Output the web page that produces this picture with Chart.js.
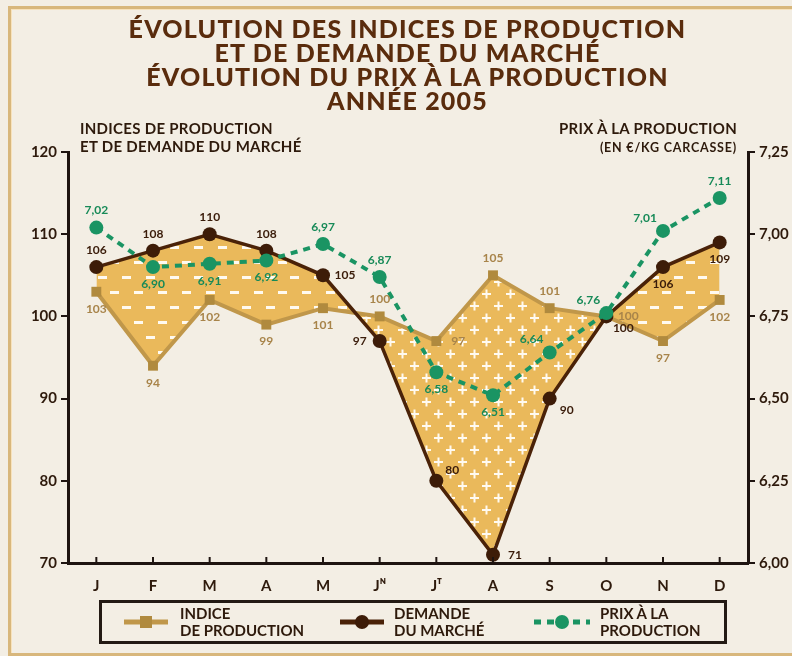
<!DOCTYPE html>
<html>
<head>
<meta charset="utf-8">
<script src="https://cdn.jsdelivr.net/npm/chart.js@4"></script>
<style>
  html, body { margin: 0; padding: 0; width: 792px; height: 656px; overflow: hidden; background: #f3eee4; }
  body { position: relative; font-family: "Lato", "DejaVu Sans", sans-serif; color: #3a1f0c; }
  #frame { position: absolute; left: 8px; top: 6px; width: 800px; height: 644px; border: 3px solid #d8b77c; box-shadow: inset 1px 1px 0 #f7e2bc; }
  #chart { position: absolute; left: 0; top: 0; }
  .title { position: absolute; left: 0; width: 815px; top: 16px; text-align: center; font-weight: 900; font-size: 25px; line-height: 24px; color: #5a2c0d; letter-spacing: 1.2px; }
  .axt { position: absolute; font-weight: 700; font-size: 15px; line-height: 18px; color: #2e1a0c; letter-spacing: 0.3px; }
  #legend { position: absolute; left: 99px; top: 600px; width: 622px; height: 38px; border: 3px solid #231a14; }
  .lg { position: absolute; top: 0; font-weight: 700; font-size: 15px; line-height: 17px; color: #2e1a0c; padding-top: 2px; }
  .lg svg { position: absolute; }
</style>
</head>
<body>
<div id="frame"></div>
<canvas id="chart" width="792" height="656"></canvas>
<div class="title">ÉVOLUTION DES INDICES DE PRODUCTION<br>ET DE DEMANDE DU MARCHÉ<br>ÉVOLUTION DU PRIX À LA PRODUCTION<br>ANNÉE 2005</div>
<div class="axt" style="left:80px; top:119px;">INDICES DE PRODUCTION<br>ET DE DEMANDE DU MARCHÉ</div>
<div class="axt" style="right:55px; top:119px; text-align:right;">PRIX À LA PRODUCTION<br><span style="font-size:12.5px; letter-spacing:0.8px;">(EN €/KG CARCASSE)</span></div>
<div id="legend">
  <div class="lg" style="left:0;">
    <svg style="left:20px; top:11px;" width="48" height="16"><line x1="2" y1="8" x2="46" y2="8" stroke="#c0974a" stroke-width="5"/><rect x="18" y="2" width="12" height="12" fill="#b08a3e"/></svg>
    <div style="position:absolute; left:78px; width:150px;">INDICE<br>DE PRODUCTION</div>
  </div>
  <div class="lg" style="left:236px;">
    <svg style="left:0; top:11px;" width="48" height="16"><line x1="2" y1="8" x2="46" y2="8" stroke="#4a2208" stroke-width="5"/><circle cx="24" cy="8" r="7" fill="#3d1c08"/></svg>
    <div style="position:absolute; left:56px; width:120px;">DEMANDE<br>DU MARCHÉ</div>
  </div>
  <div class="lg" style="left:430px;">
    <svg style="left:0; top:11px;" width="60" height="16"><line x1="2" y1="8" x2="58" y2="8" stroke="#1a9463" stroke-width="5" stroke-dasharray="7 6"/><circle cx="30" cy="8" r="7" fill="#1a9463"/></svg>
    <div style="position:absolute; left:68px; width:120px;">PRIX À LA<br>PRODUCTION</div>
  </div>
</div>
<script>
// valeurs
const months = ['J', 'F', 'M', 'A', 'M', 'Jᴺ', 'Jᵀ', 'A', 'S', 'O', 'N', 'D'];
const indiceProduction = [103, 94, 102, 99, 101, 100, 97, 105, 101, 100, 97, 102];
const demandeMarche = [106, 108, 110, 108, 105, 97, 80, 71, 90, 100, 106, 109];
const prixProduction = [7.02, 6.90, 6.91, 6.92, 6.97, 6.87, 6.58, 6.51, 6.64, 6.76, 7.01, 7.11];

// placement des étiquettes (t = dessus, b = dessous, r = droite, l = gauche...)
const prodPos = ['b', 'b', 'b', 'b', 'b', 't', 'r', 't', 't', 'r', 'b', 'b'];
const demPos = ['t', 't', 't', 't', 'r', 'l', 'tr', 'r', 'br', 'br', 'b', 'b'];
const prixPos = ['t', 'b', 'b', 'b', 't', 't', 'b', 'b', 'tl', 'tl', 'tl', 't'];

const offsets = {
  t: [0, -17], b: [0, 17], r: [22, 0], l: [-20, 0],
  tl: [-18, -13], tr: [16, -11], br: [17, 12]
};

function makePattern(kind) {
  const c = document.createElement('canvas');
  if (kind === 'dash') { c.width = 24; c.height = 30; } else { c.width = 24; c.height = 24; }
  const g = c.getContext('2d');
  g.fillStyle = '#eab95b';
  g.fillRect(0, 0, c.width, c.height);
  g.fillStyle = '#fffaf0';
  if (kind === 'dash') {
    g.fillRect(2, 6, 9, 3);
    g.fillRect(14, 21, 9, 3);
  } else {
    g.fillRect(2, 5, 9, 2); g.fillRect(5.5, 1.5, 2, 9);
    g.fillRect(14, 17, 9, 2); g.fillRect(17.5, 13.5, 2, 9);
  }
  return g.createPattern(c, 'repeat');
}

const valueLabels = {
  id: 'valueLabels',
  afterDatasetsDraw(chart) {
    const ctx = chart.ctx;
    const sets = [
      { idx: 2, pos: prodPos, color: '#a8844a', fmt: v => String(v) },
      { idx: 1, pos: demPos, color: '#3a1c0a', fmt: v => String(v) },
      { idx: 0, pos: prixPos, color: '#178a58', fmt: v => v.toFixed(2).replace('.', ',') }
    ];
    ctx.save();
    ctx.font = 'bold 12px Lato, "DejaVu Sans", sans-serif';
    ctx.textAlign = 'center';
    ctx.textBaseline = 'middle';
    sets.forEach(s => {
      const meta = chart.getDatasetMeta(s.idx);
      const vals = chart.data.datasets[s.idx].data;
      meta.data.forEach((pt, i) => {
        const o = offsets[s.pos[i]];
        ctx.fillStyle = s.color;
        ctx.fillText(s.fmt(vals[i]), pt.x + o[0], pt.y + o[1]);
      });
    });
    ctx.restore();
  }
};

// petites graduations vers l'intérieur sur l'axe des mois
const monthTicks = {
  id: 'monthTicks',
  afterDraw(chart) {
    const x = chart.scales.x;
    const ctx = chart.ctx;
    const b = chart.chartArea.bottom;
    ctx.save();
    ctx.strokeStyle = '#1e1410';
    ctx.lineWidth = 2;
    months.forEach((m, i) => {
      const px = x.getPixelForValue(i);
      ctx.beginPath();
      ctx.moveTo(px, b - 6);
      ctx.lineTo(px, b + 2);
      ctx.stroke();
    });
    ctx.restore();
  }
};

const tickFont = { family: 'Lato, "DejaVu Sans", sans-serif', size: 15, weight: 'bold' };

new Chart(document.getElementById('chart').getContext('2d'), {
  type: 'line',
  data: {
    labels: months,
    datasets: [
      {
        label: 'Prix à la production',
        data: prixProduction,
        yAxisID: 'y1',
        borderColor: '#1a9463',
        backgroundColor: '#1a9463',
        borderWidth: 4,
        borderDash: [7, 6],
        pointStyle: 'circle',
        pointRadius: 7,
        pointBorderWidth: 0,
        fill: false
      },
      {
        label: 'Demande du marché',
        data: demandeMarche,
        yAxisID: 'y',
        borderColor: '#4a2208',
        backgroundColor: '#3d1c08',
        borderWidth: 3.5,
        pointStyle: 'circle',
        pointRadius: 7,
        pointBorderWidth: 0,
        fill: { target: 2, above: makePattern('dash'), below: makePattern('plus') }
      },
      {
        label: 'Indice de production',
        data: indiceProduction,
        yAxisID: 'y',
        borderColor: '#c0974a',
        backgroundColor: '#b08a3e',
        borderWidth: 4,
        pointStyle: 'rect',
        pointRadius: 7,
        pointBorderWidth: 0,
        fill: false
      }
    ]
  },
  options: {
    responsive: false,
    animation: false,
    events: [],
    layout: { padding: { top: 152, left: 0, right: 0, bottom: 0 } },
    plugins: {
      legend: { display: false },
      title: { display: false },
      tooltip: { enabled: false },
      filler: { drawTime: 'beforeDatasetsDraw' }
    },
    scales: {
      x: {
        offset: true,
        grid: { display: false },
        border: { display: true, color: '#1e1410', width: 3 },
        ticks: { color: '#2e1a0c', font: tickFont, padding: 6 },
        afterFit: s => { s.height = 93; }
      },
      y: {
        position: 'left',
        min: 70, max: 120,
        ticks: { stepSize: 10, color: '#2e1a0c', font: tickFont, padding: 4 },
        grid: { drawOnChartArea: false, color: '#1e1410', lineWidth: 2, tickLength: 7 },
        border: { display: true, color: '#1e1410', width: 3 },
        afterFit: s => { s.width = 68; }
      },
      y1: {
        position: 'right',
        min: 6, max: 7.25,
        ticks: {
          stepSize: 0.25, color: '#2e1a0c', font: tickFont, padding: 4,
          callback: v => v.toFixed(2).replace('.', ',')
        },
        grid: { drawOnChartArea: false, color: '#1e1410', lineWidth: 2, tickLength: 7 },
        border: { display: true, color: '#1e1410', width: 3 },
        afterFit: s => { s.width = 44; }
      }
    }
  },
  plugins: [valueLabels, monthTicks]
});
</script>
</body>
</html>
